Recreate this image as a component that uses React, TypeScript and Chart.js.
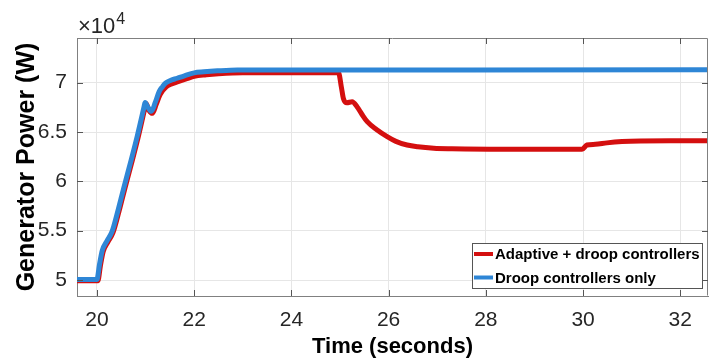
import React, { useEffect, useRef } from "react";
import { Chart, registerables } from "chart.js";

Chart.register(...registerables);

// Time axis (seconds) – Adaptive + droop controllers
const adaptiveTime = [19.59, 20.02, 20.07, 20.13, 20.23, 20.33, 20.44, 20.57, 20.71, 20.85, 20.99, 21.01, 21.07, 21.14, 21.22, 21.3, 21.43, 21.55, 21.67, 21.85, 22.0, 22.25, 22.5, 23.0, 24.97, 25.03, 25.07, 25.14, 25.25, 25.35, 25.45, 25.56, 25.75, 25.97, 26.15, 26.38, 26.6, 26.93, 27.3, 28.3, 29.98, 30.08, 30.25, 30.49, 30.8, 31.18, 31.8, 32.57];
// Generator power (W) – Adaptive + droop controllers
const adaptivePower = [49920, 49920, 51400, 52900, 53900, 54800, 56700, 59200, 61800, 64500, 67500, 67900, 67200, 66900, 67800, 68800, 69600, 69900, 70100, 70400, 70650, 70800, 70900, 71000, 71000, 69500, 68400, 67970, 68070, 67570, 66800, 66050, 65250, 64530, 64050, 63680, 63500, 63350, 63300, 63250, 63250, 63680, 63750, 63900, 64030, 64100, 64120, 64120];

// Time axis (seconds) – Droop controllers only
const droopTime = [19.59, 20.0, 20.05, 20.11, 20.21, 20.31, 20.42, 20.55, 20.69, 20.83, 20.97, 20.99, 21.05, 21.12, 21.2, 21.28, 21.35, 21.41, 21.5, 21.65, 21.8, 22.0, 22.2, 22.48, 22.89, 32.57];
// Generator power (W) – Droop controllers only
const droopPower = [50050, 50050, 51500, 53000, 54000, 54900, 56800, 59300, 61900, 64600, 67570, 68000, 67500, 67100, 68000, 69100, 69600, 69950, 70200, 70450, 70700, 71000, 71100, 71200, 71290, 71300];

const seriesLabels = ["Adaptive + droop controllers", "Droop controllers only"];
const seriesColors = ["#d40f0f", "#2e86d6"];

const xTicks = [20, 22, 24, 26, 28, 30, 32];
const yTicks = [50000, 55000, 60000, 65000, 70000];
const xRange = [19.59, 32.57];
const yRange = [48380, 74530];

const FONT = "'Liberation Sans', Arial, Helvetica, sans-serif";

const decorPlugin = {
  id: "decor",
  afterDatasetsDraw(chart: any) {
    const { ctx, chartArea: a } = chart;
    const xs = chart.scales.x;
    const ys = chart.scales.y;
    ctx.save();
    ctx.strokeStyle = "#808080";
    ctx.lineWidth = 1;
    ctx.beginPath();
    ctx.moveTo(a.left + 0.5, a.top + 0.5);
    ctx.lineTo(a.right - 0.5, a.top + 0.5);
    ctx.lineTo(a.right - 0.5, a.bottom - 0.5);
    ctx.stroke();
    ctx.strokeStyle = "#555555";
    const tl = 6;
    ctx.beginPath();
    xTicks.forEach((v) => {
      const px = Math.round(xs.getPixelForValue(v)) + 0.5;
      ctx.moveTo(px, a.bottom);
      ctx.lineTo(px, a.bottom - tl);
      ctx.moveTo(px, a.top);
      ctx.lineTo(px, a.top + tl);
    });
    yTicks.forEach((v) => {
      const py = Math.round(ys.getPixelForValue(v)) + 0.5;
      ctx.moveTo(a.left, py);
      ctx.lineTo(a.left + tl, py);
      ctx.moveTo(a.right, py);
      ctx.lineTo(a.right - tl, py);
    });
    ctx.stroke();
    ctx.restore();
  },
  afterDraw(chart: any) {
    const { ctx } = chart;
    ctx.save();
    ctx.fillStyle = "#262626";
    ctx.textBaseline = "alphabetic";
    ctx.textAlign = "left";
    ctx.font = `22px ${FONT}`;
    ctx.fillText("\u00d710", 78, 33);
    const w = ctx.measureText("\u00d710").width;
    ctx.font = `16px ${FONT}`;
    ctx.fillText("4", 78 + w + 1, 24);
    const lx = 472, ly = 243, lw = 230, lh = 45;
    ctx.fillStyle = "#ffffff";
    ctx.fillRect(lx, ly, lw, lh);
    ctx.strokeStyle = "#555555";
    ctx.lineWidth = 1;
    ctx.strokeRect(lx + 0.5, ly + 0.5, lw, lh);
    ctx.font = `bold 15px ${FONT}`;
    ctx.textBaseline = "middle";
    chart.data.datasets.forEach((ds: any, i: number) => {
      const cy = ly + 11 + i * 23.5;
      ctx.strokeStyle = ds.borderColor;
      ctx.lineWidth = 4;
      ctx.beginPath();
      ctx.moveTo(lx + 2, cy);
      ctx.lineTo(lx + 21, cy);
      ctx.stroke();
      ctx.fillStyle = "#000000";
      ctx.fillText(ds.label, lx + 23, cy + 1);
    });
    ctx.restore();
  },
};

export default function App() {
  const ref = useRef<HTMLCanvasElement | null>(null);
  useEffect(() => {
    if (!ref.current) return;
    const chart = new Chart(ref.current, {
      type: "line",
      data: {
        datasets: [
          {
            label: seriesLabels[0],
            data: adaptiveTime.map((t, i) => ({ x: t, y: adaptivePower[i] })),
            borderColor: seriesColors[0],
            backgroundColor: seriesColors[0],
            borderWidth: 5,
            pointRadius: 0,
            cubicInterpolationMode: "monotone",
            borderJoinStyle: "round",
            order: 2,
          },
          {
            label: seriesLabels[1],
            data: droopTime.map((t, i) => ({ x: t, y: droopPower[i] })),
            borderColor: seriesColors[1],
            backgroundColor: seriesColors[1],
            borderWidth: 5,
            pointRadius: 0,
            cubicInterpolationMode: "monotone",
            borderJoinStyle: "round",
            order: 1,
          },
        ],
      },
      options: {
        animation: false,
        responsive: false,
        events: [],
        layout: { padding: { top: 38, right: 12, left: 0, bottom: 0 } },
        plugins: { legend: { display: false }, tooltip: { enabled: false } },
        scales: {
          x: {
            type: "linear",
            min: xRange[0],
            max: xRange[1],
            afterBuildTicks: (s: any) => {
              s.ticks = xTicks.map((v) => ({ value: v }));
            },
            afterFit: (s: any) => {
              s.height = 68;
            },
            grid: { color: "#e6e6e6", drawTicks: false, lineWidth: 1 },
            border: { display: true, color: "#808080", width: 1 },
            ticks: {
              padding: 12,
              color: "#262626",
              font: { family: FONT, size: 21 },
              maxRotation: 0,
              callback: (v: any) => String(v),
            },
            title: {
              display: true,
              text: "Time (seconds)",
              color: "#000000",
              font: { family: FONT, size: 22, weight: "bold" },
              padding: { top: 0, bottom: 4 },
            },
          },
          y: {
            type: "linear",
            min: yRange[0],
            max: yRange[1],
            afterBuildTicks: (s: any) => {
              s.ticks = yTicks.map((v) => ({ value: v }));
            },
            afterFit: (s: any) => {
              s.width = 77;
            },
            grid: { color: "#e6e6e6", drawTicks: false, lineWidth: 1 },
            border: { display: true, color: "#808080", width: 1 },
            ticks: {
              padding: 10,
              color: "#262626",
              font: { family: FONT, size: 21 },
              callback: (v: any) => String(Number(v) / 10000),
            },
            title: {
              display: true,
              text: "Generator Power (W)",
              color: "#000000",
              font: { family: FONT, size: 25, weight: "bold" },
              padding: { top: 12, bottom: 0 },
            },
          },
        },
      },
      plugins: [decorPlugin],
    } as any);
    return () => chart.destroy();
  }, []);
  return (
    <div style={{ position: "absolute", left: 0, top: 0, width: 720, height: 364, background: "#fff" }}>
      <canvas ref={ref} width={720} height={364} style={{ width: 720, height: 364, display: "block" }} />
    </div>
  );
}
